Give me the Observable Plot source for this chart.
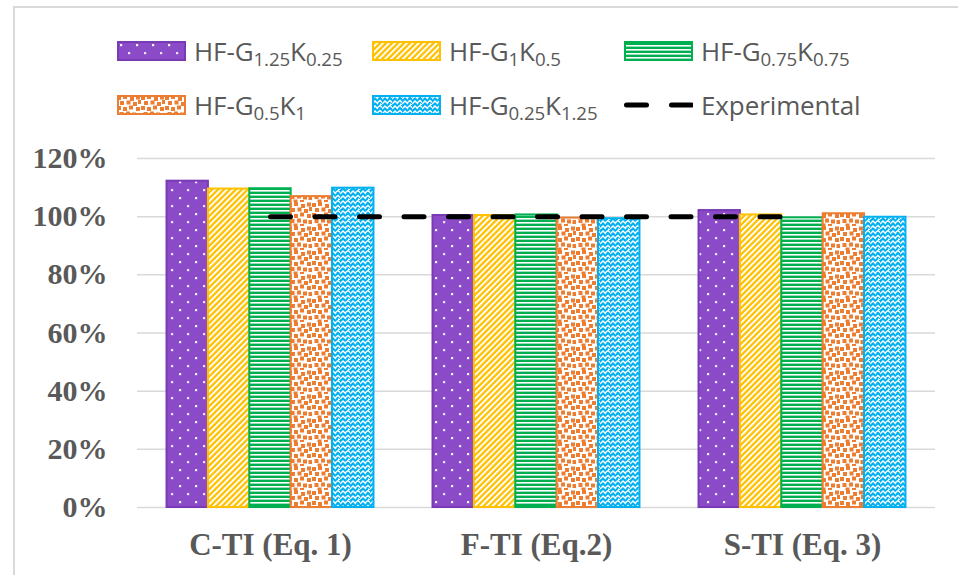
<!DOCTYPE html>
<html><head><meta charset="utf-8">
<script src="https://cdn.jsdelivr.net/npm/d3@7"></script>
<script src="https://cdn.jsdelivr.net/npm/@observablehq/plot@0.6"></script>
<style>
html,body{margin:0;padding:0;background:#fff;width:958px;height:575px;overflow:hidden;}
#frame{position:absolute;left:13px;top:6px;width:2000px;height:2000px;border-left:2px solid #d9d9d9;border-top:2px solid #d9d9d9;box-sizing:border-box;}
#legend{position:relative;height:130px;font-family:"Open Sans",sans-serif;font-size:26px;color:#595959;}
.item{position:absolute;display:flex;align-items:center;gap:8px;white-space:nowrap;height:20px;line-height:1;}
.item span{letter-spacing:-0.1px;}
.item sub{font-size:0.72em;vertical-align:-0.28em;line-height:0;}
#chart{position:relative;}
</style></head><body>
<svg width="0" height="0" style="position:absolute">
<defs>
<pattern id="pat0" patternUnits="userSpaceOnUse" width="16" height="16">
<rect width="16" height="16" fill="#8B4BC8"/>
<rect x="3" y="3" width="2.2" height="2.2" fill="#fff" opacity="0.95"/>
<rect x="11" y="11" width="2.2" height="2.2" fill="#fff" opacity="0.85"/>
</pattern>
<pattern id="pat1" patternUnits="userSpaceOnUse" width="4.2" height="10" patternTransform="rotate(45)">
<rect width="4.2" height="10" fill="#FFC000"/>
<rect width="1.9" height="10" fill="#fff"/>
</pattern>
<pattern id="pat2" patternUnits="userSpaceOnUse" width="10" height="4">
<rect width="10" height="4" fill="#00B050"/>
<rect y="0" width="10" height="1.6" fill="#fff"/>
</pattern>
<pattern id="pat3" patternUnits="userSpaceOnUse" width="24" height="24">
<rect width="24" height="24" fill="#fff"/>
<g fill="#ED7D31">
<rect x="0" y="1" width="4" height="4"/>
<rect x="6" y="0" width="4" height="4"/>
<rect x="13" y="2" width="4" height="4"/>
<rect x="19" y="0.5" width="4" height="4"/>
<rect x="3" y="6" width="4" height="4"/>
<rect x="9.5" y="5.5" width="4" height="4"/>
<rect x="16" y="7" width="4" height="4"/>
<rect x="21" y="5" width="3" height="4"/>
<rect x="0" y="11" width="4" height="4"/>
<rect x="6" y="12" width="4" height="4"/>
<rect x="12" y="10.5" width="4" height="4"/>
<rect x="19" y="12" width="4" height="4"/>
<rect x="2.5" y="17" width="4" height="4"/>
<rect x="9" y="16.5" width="4" height="4"/>
<rect x="15" y="17.5" width="4" height="4"/>
<rect x="20.5" y="18" width="3.5" height="4"/>
<rect x="5.5" y="21.5" width="4" height="2.5"/>
<rect x="12" y="22" width="4" height="2"/>
</g>
</pattern>
<pattern id="pat4" patternUnits="userSpaceOnUse" width="10" height="10">
<rect width="10" height="10" fill="#00B0F0"/>
<path d="M0,4 L3,1 L6,4 M5,3 L8,0.5 L10,2.5 M0,9 L3,6 L6,9 M5,8 L8,5.5 L10,7.5 M8,9 L10,10" fill="none" stroke="#fff" stroke-width="1.4"/>
</pattern>
</defs>
</svg>
<div id="frame"></div>
<div id="legend"></div>
<div id="chart"></div>
<script>
// ---- data ----
const categories = ["C-TI (Eq. 1)", "F-TI (Eq.2)", "S-TI (Eq. 3)"];
const seriesNames = ["HF-G1.25K0.25", "HF-G1K0.5", "HF-G0.75K0.75", "HF-G0.5K1", "HF-G0.25K1.25"];
const gSubs = ["1.25", "1", "0.75", "0.5", "0.25"];
const kSubs = ["0.25", "0.5", "0.75", "1", "1.25"];
const g125k025 = [112.2, 100.4, 102.1];
const g1k05 = [109.5, 100.4, 100.6];
const g075k075 = [109.6, 100.6, 99.6];
const g05k1 = [106.9, 99.5, 101.0];
const g025k125 = [109.8, 99.3, 99.8];
const experimental = [100, 100, 100];
const experimentalName = "Experimental";
const yTicks = [0, 20, 40, 60, 80, 100, 120];

// ---- styling ----
const seriesValues = [g125k025, g1k05, g075k075, g05k1, g025k125];
const strokes = ["#7A3AB5", "#FFC000", "#00B050", "#ED7D31", "#00B0F0"];
const fills = seriesNames.map((s, j) => `url(#pat${j})`);
const groupPad = 0.111, barW = 0.1556;

// ---- legend ----
const legend = document.getElementById("legend");
const colLeft = [117, 372, 624];
const rowTop = [41, 95];
const items = seriesNames.map((s, j) => ({
  swatch: `<svg width="69" height="20"><rect x="1" y="1" width="67" height="18" fill="${fills[j]}" stroke="${strokes[j]}" stroke-width="2"/></svg>`,
  label: `HF-G<sub>${gSubs[j]}</sub>K<sub>${kSubs[j]}</sub>`
}));
items.push({
  swatch: `<svg width="69" height="20"><line x1="2.5" x2="67.5" y1="10" y2="10" stroke="#000" stroke-width="5" stroke-dasharray="20 25" stroke-linecap="round"/></svg>`,
  label: experimentalName
});
items.forEach((it, k) => {
  const d = document.createElement("div");
  d.className = "item";
  d.style.left = colLeft[k % 3] + "px";
  d.style.top = rowTop[Math.floor(k / 3)] + "px";
  d.innerHTML = it.swatch + `<span>${it.label}</span>`;
  legend.appendChild(d);
});

// ---- chart ----
const rows = categories.flatMap((c, i) => seriesValues.map((vals, j) => ({ci: i, sj: j, value: vals[i]})));
const expRows = categories.map((c, i) => ({x: i + 0.5, y: experimental[i]}));

const chart = Plot.plot({
  width: 958,
  height: 445,
  marginTop: 28,
  marginBottom: 68,
  marginLeft: 137,
  marginRight: 23,
  style: {fontFamily: '"Liberation Serif", "Times New Roman", serif', fontSize: "30px", fontWeight: "bold", color: "#595959", background: "transparent", overflow: "visible"},
  x: {domain: [0, 3], ticks: [0.5, 1.5, 2.5], tickFormat: t => categories[Math.floor(t)], tickSize: 0, tickPadding: 25, label: null},
  y: {domain: [0, 120], ticks: yTicks, tickFormat: d => d + "%", tickSize: 0, tickPadding: 30, label: null},
  marks: [
    Plot.ruleY(yTicks, {stroke: "#d9d9d9", strokeWidth: 1.5}),
    ...seriesNames.map((s, j) => Plot.rectY(rows.filter(r => r.sj === j), {
      x1: r => r.ci + groupPad + r.sj * barW,
      x2: r => r.ci + groupPad + (r.sj + 1) * barW,
      y1: 0,
      y2: "value",
      fill: fills[j],
      stroke: strokes[j],
      strokeWidth: 2
    })),
    Plot.line(expRows, {x: "x", y: "y", stroke: "#000", strokeWidth: 5, strokeDasharray: "20,24.5", strokeLinecap: "round"})
  ]
});
chart.querySelectorAll('[aria-label="x-axis tick label"] text, [aria-label="x-axis"] text').forEach(t => t.style.fontSize = "31px");
document.getElementById("chart").appendChild(chart);
</script>
</body></html>
